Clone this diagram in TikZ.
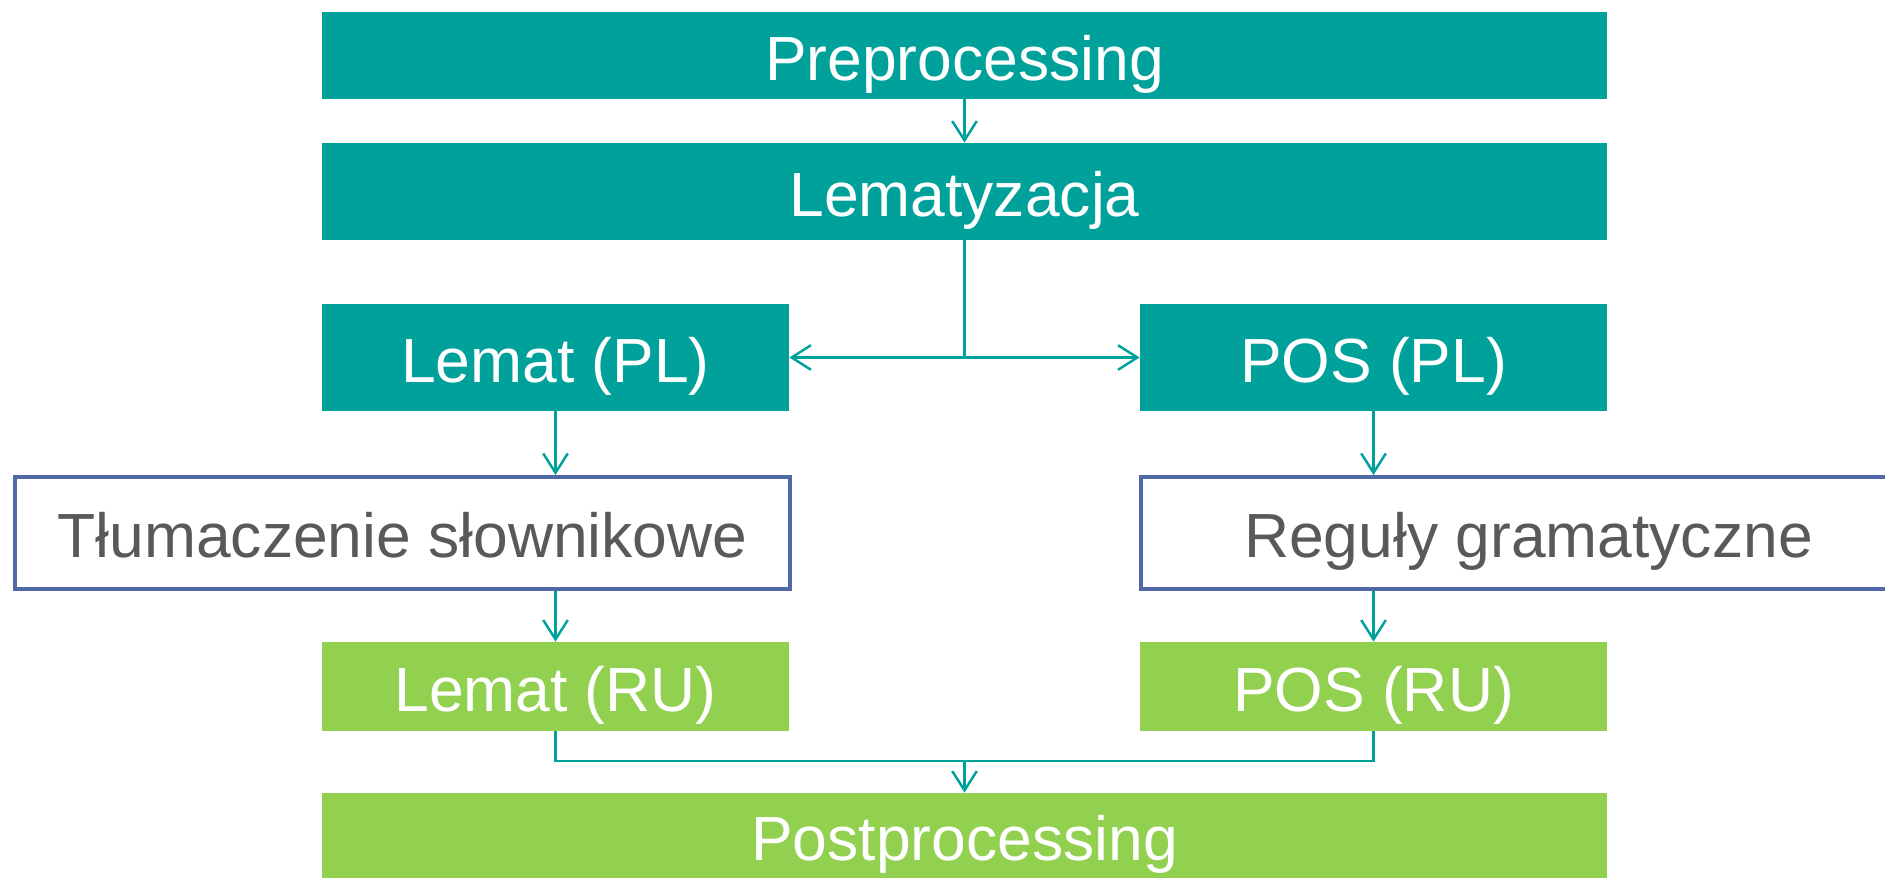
\documentclass[tikz,border=0pt]{standalone}
\usepackage{fontspec}
\setmainfont{Liberation Sans}
\usepackage{xcolor}
\definecolor{ptturkus}{RGB}{0, 161, 154}
\definecolor{ptzielony}{RGB}{146, 208, 80}
\definecolor{ptniebieski}{RGB}{80, 104, 165}
\definecolor{ptszary}{RGB}{89, 89, 89}
\usetikzlibrary{arrows.meta, positioning}

\begin{document}
\begin{tikzpicture}[
            etap/.style={rectangle, fill=ptturkus, text=white, minimum width=25.7cm, minimum height=1.74cm, inner sep=0pt, text height=35.5pt, text depth=7.1pt, font=\fontsize{35.5}{40}\selectfont},
            jezykpl/.style={rectangle, fill=ptturkus, text=white, minimum width=9.34cm, minimum height=2.14cm, inner sep=0pt, text height=35.5pt, text depth=7.1pt, font=\fontsize{35.5}{40}\selectfont},
            regula/.style={rectangle, draw=ptniebieski, line width=2.2pt, fill=white, text=ptszary, minimum width=15.5cm, minimum height=2.24cm, inner sep=0pt, text height=35.5pt, text depth=7.1pt, font=\fontsize{35.5}{40}\selectfont},
            jezykru/.style={rectangle, fill=ptzielony, text=white, minimum width=9.34cm, minimum height=1.78cm, inner sep=0pt, text height=35.5pt, text depth=7.1pt, font=\fontsize{35.5}{40}\selectfont},
            koniec/.style={rectangle, fill=ptzielony, text=white, minimum width=25.7cm, minimum height=1.7cm, inner sep=0pt, text height=35.5pt, text depth=7.1pt, font=\fontsize{35.5}{40}\selectfont},
            strzalka/.style={line width=1.4pt, -{Straight Barb[length=11pt, width=14pt]}, draw=ptturkus},
            linia/.style={line width=1.4pt, draw=ptturkus}
        ]
            \useasboundingbox (0,0) rectangle (37.7,-17.58);

            % Wezly
            \node (pre) [etap] at (19.29,-1.11) {Preprocessing};
            \node (lem) [etap, minimum height=1.94cm] at (19.29,-3.83) {Lematyzacja};
            \node (lematpl) [jezykpl] at (11.11,-7.15) {Lemat (PL)};
            \node (pospl) [jezykpl] at (27.47,-7.15) {POS (PL)};
            \node (slownik) [regula] at (8.05,-10.66) {Tłumaczenie słownikowe};
            \node (gramatyka) [regula] at (30.57,-10.66) {Reguły gramatyczne};
            \node (lematru) [jezykru] at (11.11,-13.73) {Lemat (RU)};
            \node (posru) [jezykru] at (27.47,-13.73) {POS (RU)};
            \node (post) [koniec] at (19.29,-16.71) {Postprocessing};
            \coordinate (zbieg) at (19.29,-15.22);

            % Polaczenia
            \draw [strzalka] (pre) -- (lem);
            \draw [strzalka] (lem.south) |- (lematpl.east);
            \draw [strzalka] (lem.south) |- (pospl.west);
            \draw [strzalka] (lematpl.south) -- (lematpl.south |- slownik.north);
            \draw [strzalka] (pospl.south) -- (pospl.south |- gramatyka.north);
            \draw [strzalka] (lematru.north |- slownik.south) -- (lematru.north);
            \draw [strzalka] (posru.north |- gramatyka.south) -- (posru.north);

            % Scalenie
            \draw [linia] (lematru.south) |- (zbieg) -| (posru.south);
            \draw [strzalka] (zbieg) -- (post.north);
        \end{tikzpicture}
\end{document}
